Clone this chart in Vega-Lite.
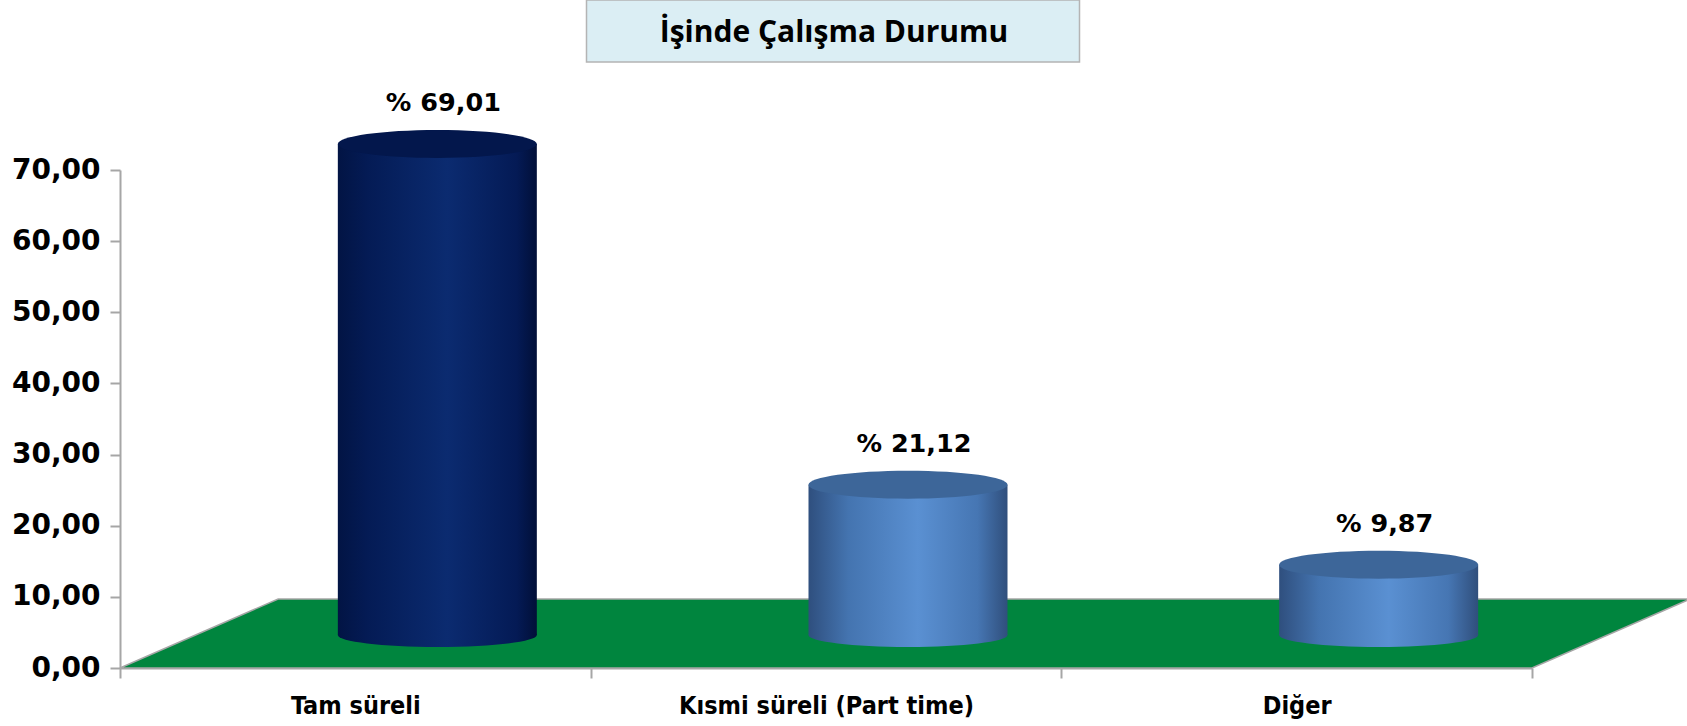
{
  "$schema": "https://vega.github.io/schema/vega-lite/v6.json",
  "width": 1412,
  "height": 498,
  "autosize": {"type": "none"},
  "padding": {"left": 120, "top": 170, "right": 155, "bottom": 58},
  "background": "#ffffff",
  "data": {
    "values": [
      {"kategori": "Tam süreli", "oran": 69.01, "etiket": "% 69,01"},
      {"kategori": "Kısmi süreli (Part time)", "oran": 21.12, "etiket": "% 21,12"},
      {"kategori": "Diğer", "oran": 9.87, "etiket": "% 9,87"}
    ]
  },
  "encoding": {
    "x": {
      "field": "kategori",
      "type": "nominal",
      "sort": null,
      "scale": {"type": "band", "domain": ["Tam süreli", "Kısmi süreli (Part time)", "Diğer"], "paddingInner": 0, "paddingOuter": 0},
      "axis": {
        "title": null,
        "labelAngle": 0,
        "labelLimit": 0,
        "labelFont": "DejaVu Sans Condensed",
        "labelFontWeight": "bold",
        "labelFontSize": 25,
        "labelColor": "#000000",
        "labelPadding": 15,
        "domainColor": "#a6a6a6",
        "domainWidth": 2,
        "tickColor": "#a6a6a6",
        "tickWidth": 2,
        "tickSize": 10,
        "tickBand": "extent"
      }
    }
  },
  "layer": [
    {
      "data": {"values": [{"zemin": "Kısmi süreli (Part time)"}]},
      "mark": {
        "type": "point",
        "filled": true,
        "opacity": 1,
        "fill": "#00853e",
        "stroke": "#a6a6a6",
        "strokeWidth": 1.5,
        "shape": "M-1,0L-0.776,-0.0977L1.224,-0.0977L1,0Z",
        "size": 1993744
      },
      "encoding": {
        "x": {"field": "zemin", "type": "nominal"},
        "y": {"datum": 0, "type": "quantitative"}
      }
    },
    {
      "mark": {
        "type": "point",
        "filled": true,
        "opacity": 1,
        "strokeWidth": 0,
        "shape": "M-1,0A1,0.12,0,1,0,1,0A1,0.12,0,1,0,-1,0Z",
        "size": 39601,
        "xOffset": 82,
        "yOffset": -33
      },
      "encoding": {
        "y": {"datum": 0, "type": "quantitative"},
        "fill": {
          "condition": {
            "test": "datum.kategori === 'Tam süreli'",
            "value": {"gradient": "linear", "x1": 0, "y1": 0, "x2": 1, "y2": 0,
              "stops": [{"offset": 0, "color": "#021444"}, {"offset": 0.15, "color": "#041b55"}, {"offset": 0.55, "color": "#0b2b70"}, {"offset": 0.9, "color": "#041a55"}, {"offset": 1, "color": "#010f38"}]}
          },
          "value": {"gradient": "linear", "x1": 0, "y1": 0, "x2": 1, "y2": 0,
            "stops": [{"offset": 0, "color": "#2f4f7e"}, {"offset": 0.2, "color": "#4474b0"}, {"offset": 0.55, "color": "#5a90d2"}, {"offset": 0.85, "color": "#4676b3"}, {"offset": 1, "color": "#304f7c"}]}
        }
      }
    },
    {
      "mark": {
        "type": "bar",
        "width": 199,
        "xOffset": 82,
        "yOffset": -33,
        "y2Offset": -33
      },
      "encoding": {
        "y": {
          "field": "oran",
          "type": "quantitative",
          "scale": {"domain": [0, 70], "nice": false},
          "axis": {
            "title": null,
            "values": [0, 10, 20, 30, 40, 50, 60, 70],
            "labelExpr": "replace(format(datum.value, '.2f'), '.', ',')",
            "labelFont": "DejaVu Sans",
            "labelFontWeight": "bold",
            "labelFontSize": 28,
            "labelColor": "#000000",
            "labelPadding": 10,
            "domainColor": "#a6a6a6",
            "domainWidth": 2,
            "tickColor": "#a6a6a6",
            "tickWidth": 2,
            "tickSize": 10,
            "grid": false
          }
        },
        "y2": {"datum": 0},
        "fill": {
          "condition": {
            "test": "datum.kategori === 'Tam süreli'",
            "value": {"gradient": "linear", "x1": 0, "y1": 0, "x2": 1, "y2": 0,
              "stops": [{"offset": 0, "color": "#021444"}, {"offset": 0.15, "color": "#041b55"}, {"offset": 0.55, "color": "#0b2b70"}, {"offset": 0.9, "color": "#041a55"}, {"offset": 1, "color": "#010f38"}]}
          },
          "value": {"gradient": "linear", "x1": 0, "y1": 0, "x2": 1, "y2": 0,
            "stops": [{"offset": 0, "color": "#2f4f7e"}, {"offset": 0.2, "color": "#4474b0"}, {"offset": 0.55, "color": "#5a90d2"}, {"offset": 0.85, "color": "#4676b3"}, {"offset": 1, "color": "#304f7c"}]}
        }
      }
    },
    {
      "mark": {
        "type": "point",
        "filled": true,
        "opacity": 1,
        "strokeWidth": 0,
        "shape": "M-1,0A1,0.14,0,1,0,1,0A1,0.14,0,1,0,-1,0Z",
        "size": 39601,
        "xOffset": 82,
        "yOffset": -33
      },
      "encoding": {
        "y": {"field": "oran", "type": "quantitative"},
        "fill": {
          "condition": {"test": "datum.kategori === 'Tam süreli'", "value": "#03174c"},
          "value": "#3d6699"
        }
      }
    },
    {
      "mark": {
        "type": "text",
        "font": "DejaVu Sans",
        "fontWeight": "bold",
        "fontSize": 25.5,
        "color": "#000000",
        "baseline": "middle",
        "align": "center",
        "dx": 88,
        "dy": -74
      },
      "encoding": {
        "y": {"field": "oran", "type": "quantitative"},
        "text": {"field": "etiket", "type": "nominal"}
      }
    },
    {
      "data": {"values": [{"konum": "Kısmi süreli (Part time)", "baslik": "İşinde Çalışma Durumu"}]},
      "mark": {
        "type": "point",
        "filled": true,
        "opacity": 1,
        "fill": "#dbeef4",
        "stroke": "#b4b4b4",
        "strokeWidth": 1.5,
        "shape": "M-1,-0.1258L1,-0.1258L1,0.1258L-1,0.1258Z",
        "size": 243049,
        "xOffset": 7,
        "yOffset": -139
      },
      "encoding": {
        "x": {"field": "konum", "type": "nominal"},
        "y": {"datum": 70, "type": "quantitative"}
      }
    },
    {
      "data": {"values": [{"konum": "Kısmi süreli (Part time)", "baslik": "İşinde Çalışma Durumu"}]},
      "mark": {
        "type": "text",
        "font": "Open Sans",
        "fontWeight": "bold",
        "fontSize": 30,
        "color": "#000000",
        "baseline": "middle",
        "align": "center",
        "dx": 8,
        "dy": -137
      },
      "encoding": {
        "x": {"field": "konum", "type": "nominal"},
        "y": {"datum": 70, "type": "quantitative"},
        "text": {"field": "baslik", "type": "nominal"}
      }
    }
  ],
  "config": {
    "view": {"stroke": null}
  }
}
